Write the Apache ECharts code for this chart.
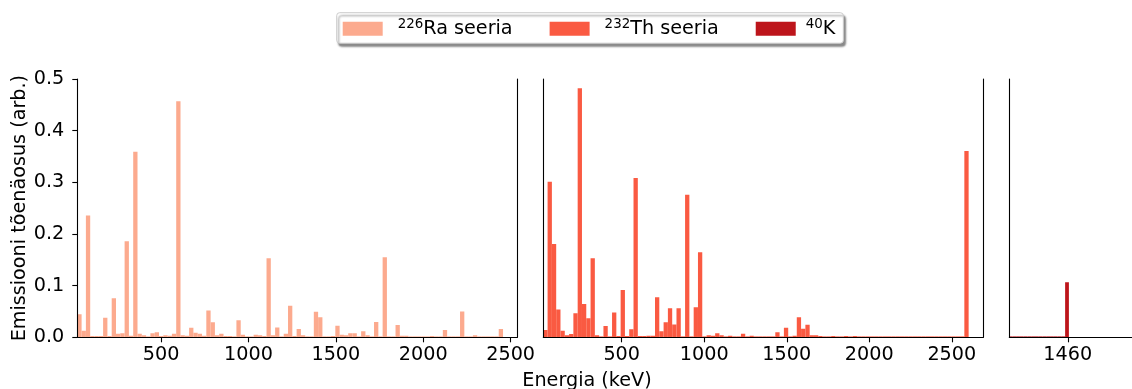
<!DOCTYPE html>
<html>
<head>
<meta charset="utf-8">
<script src="https://cdn.jsdelivr.net/npm/echarts@6/dist/echarts.min.js"></script>
<style>
  html, body { margin: 0; padding: 0; background: #fff; }
  #chart { width: 1132px; height: 389px; }
</style>
</head>
<body>
<div id="chart"></div>
<script>
// Emission probabilities per energy bin (keV histograms of the decay series)
const RA_BIN_START = 21;      // keV
const RA_BIN_WIDTH = 24.6;    // keV
const raValues = [
  0.0445, 0.0128, 0.236, 0.002, 0.002, 0.002, 0.038, 0.002, 0.0755, 0.007,
  0.008, 0.186, 0.003, 0.359, 0.007, 0.004, 0.001, 0.008, 0.010, 0.002,
  0.004, 0.003, 0.007, 0.457, 0.004, 0.003, 0.0186, 0.009, 0.007, 0.003,
  0.052, 0.029, 0.004, 0.007, 0.002, 0.002, 0.001, 0.033, 0.005, 0.001,
  0.001, 0.005, 0.004, 0.002, 0.153, 0.004, 0.019, 0.001, 0.007, 0.061,
  0.002, 0.016, 0.004, 0, 0, 0.0496, 0.0387, 0, 0.001, 0.002,
  0.0225, 0.005, 0.004, 0.008, 0.008, 0.001, 0.0116, 0.004, 0, 0.0296,
  0, 0.155, 0, 0, 0.024, 0.003, 0.003, 0.001, 0.001, 0.001,
  0.001, 0.001, 0.002, 0.001, 0.001, 0.014, 0.001, 0.001, 0.001, 0.050,
  0.001, 0.001, 0.004, 0.001, 0.001, 0.001, 0.001, 0.001, 0.016
];

const TH_BIN_START = 25;      // keV
const TH_BIN_WIDTH = 26.03;   // keV
const thValues = [
  0.0141, 0.301, 0.1806, 0.054, 0.0128, 0.004, 0.0065, 0.0464, 0.482, 0.0644,
  0.0368, 0.153, 0.004, 0.001, 0.0219, 0.001, 0.048, 0.002, 0.0916, 0.002,
  0.0155, 0.3083, 0.002, 0.002, 0.003, 0.003, 0.0774, 0.0116, 0.029, 0.056,
  0.025, 0.056, 0, 0.276, 0, 0.058, 0.1645, 0, 0.004, 0.003,
  0.008, 0.004, 0.001, 0.003, 0.001, 0.001, 0.007, 0.001, 0.003, 0.001,
  0.001, 0.001, 0.001, 0.001, 0.0097, 0, 0.0186, 0, 0.003, 0.0387,
  0.0167, 0.0244, 0.004, 0.004, 0.002, 0.001, 0.001, 0.002, 0.001, 0.001,
  0.002, 0.001, 0.002, 0.001, 0, 0, 0, 0, 0, 0,
  0, 0, 0, 0, 0, 0, 0, 0, 0, 0,
  0, 0, 0, 0, 0, 0, 0, 0, 0.3606
];

const K_BIN_START = 1392.5;   // keV
const K_BIN_WIDTH = 4.3;      // keV
const kValues = [
  0, 0, 0, 0, 0, 0, 0, 0, 0, 0, 0, 0, 0, 0, 0, 0.1066
];

const seriesNames = ['226Ra seeria', '232Th seeria', '40K'];
const raTicks = [500, 1000, 1500, 2000, 2500];
const thTicks = [500, 1000, 1500, 2000, 2500];
const kTicks = [1460];
const yTicks = [0, 0.1, 0.2, 0.3, 0.4, 0.5];

const COLORS = ['#fcaa8e', '#fa5a42', '#bd151b'];
const FONT = 'DejaVu Sans';
const FS = 19.2;

function toBins(start, width, values) {
  return values.map((v, i) => [start + i * width, start + (i + 1) * width, v]);
}

function barRenderer(color) {
  return function (params, api) {
    const top = api.coord([api.value(0), api.value(2)]);
    const base = api.coord([api.value(1), 0]);
    // empty bins still leave a faint hairline on the baseline
    const empty = base[1] - top[1] < 1;
    const h = Math.max(base[1] - top[1], 1.3);
    return {
      type: 'rect',
      shape: { x: top[0], y: base[1] - h, width: base[0] - top[0], height: h },
      style: { fill: color, opacity: empty ? 0.6 : 1 }
    };
  };
}

const GRID_TOP = 79;
const GRID_H = 258.3;
const grids = [
  { left: 77.3, top: GRID_TOP, width: 440, height: GRID_H },
  { left: 543.3, top: GRID_TOP, width: 440, height: GRID_H },
  { left: 1009.3, top: GRID_TOP, width: 140, height: GRID_H }
];

const lineStyle = { color: '#000', width: 1.1 };

function xAxisFor(gridIndex, min, max, ticks) {
  return {
    type: 'value', gridIndex, min, max, z: 10,
    axisLine: { show: true, onZero: false, lineStyle },
    axisTick: { show: true, length: 5, lineStyle, customValues: ticks },
    axisLabel: {
      show: true, customValues: ticks, fontFamily: FONT, fontSize: FS, color: '#000', margin: 8,
      formatter: v => String(v)
    },
    splitLine: { show: false }
  };
}

function spineY(gridIndex, position) {
  return {
    type: 'value', gridIndex, position, min: 0, max: 0.5, z: 10,
    axisLine: { show: true, onZero: false, lineStyle },
    axisTick: { show: false }, axisLabel: { show: false }, splitLine: { show: false }
  };
}

const chart = echarts.init(document.getElementById('chart'), null, { renderer: 'canvas' });

chart.setOption({
  animation: false,
  backgroundColor: '#fff',
  grid: grids,
  xAxis: [
    xAxisFor(0, 21, 2538, raTicks),
    xAxisFor(1, 25, 2690.8, thTicks),
    xAxisFor(2, 1393.3, 1533.3, kTicks)
  ],
  yAxis: [
    {
      type: 'value', gridIndex: 0, position: 'left', min: 0, max: 0.5, z: 10,
      axisLine: { show: true, onZero: false, lineStyle },
      axisTick: { show: true, length: 5, lineStyle, customValues: yTicks },
      axisLabel: {
        customValues: yTicks, fontFamily: FONT, fontSize: FS, color: '#000', margin: 13,
        formatter: v => v.toFixed(1)
      },
      splitLine: { show: false },
      name: 'Emissiooni tõenäosus (arb.)',
      nameLocation: 'middle', nameGap: 44,
      nameTextStyle: { fontFamily: FONT, fontSize: FS, color: '#000' }
    },
    spineY(0, 'right'),
    spineY(1, 'left'),
    spineY(1, 'right'),
    spineY(2, 'left')
  ],
  legend: {
    data: seriesNames,
    left: 336.7, top: 12.7,
    padding: [5, 8, 5, 6],
    itemWidth: 40, itemHeight: 14, itemGap: 37,
    icon: 'rect',
    backgroundColor: '#fff',
    borderColor: '#cccccc', borderWidth: 1, borderRadius: 3,
    shadowColor: 'rgba(0,0,0,0.45)', shadowBlur: 2, shadowOffsetX: 2, shadowOffsetY: 3,
    selectedMode: false,
    formatter: function (name) {
      if (name === seriesNames[0]) return '{supA|226}{main|Ra seeria}';
      if (name === seriesNames[1]) return '{supA|232}{main|Th seeria}';
      return '{supB|40}{main|K}';
    },
    textStyle: {
      fontFamily: FONT, fontSize: FS, color: '#000',
      rich: {
        supA: { fontFamily: FONT, fontSize: 13.4, lineHeight: 12, verticalAlign: 'top', padding: [0, 0, 0, 10] },
        supB: { fontFamily: FONT, fontSize: 13.4, lineHeight: 12, verticalAlign: 'top', padding: [0, 0, 0, 5] },
        main: { fontFamily: FONT, fontSize: FS, lineHeight: 22 }
      }
    }
  },
  graphic: [{
    type: 'text', x: 587, y: 381,
    style: {
      text: 'Energia (keV)', font: FS + 'px "DejaVu Sans"', fill: '#000',
      align: 'center', verticalAlign: 'middle'
    }
  }],
  series: [
    {
      name: seriesNames[0], type: 'custom', xAxisIndex: 0, yAxisIndex: 0, clip: true,
      itemStyle: { color: COLORS[0] },
      renderItem: barRenderer(COLORS[0]),
      encode: { x: [0, 1], y: 2 },
      data: toBins(RA_BIN_START, RA_BIN_WIDTH, raValues)
    },
    {
      name: seriesNames[1], type: 'custom', xAxisIndex: 1, yAxisIndex: 2, clip: true,
      itemStyle: { color: COLORS[1] },
      renderItem: barRenderer(COLORS[1]),
      encode: { x: [0, 1], y: 2 },
      data: toBins(TH_BIN_START, TH_BIN_WIDTH, thValues)
    },
    {
      name: seriesNames[2], type: 'custom', xAxisIndex: 2, yAxisIndex: 4, clip: true,
      itemStyle: { color: COLORS[2] },
      renderItem: barRenderer(COLORS[2]),
      encode: { x: [0, 1], y: 2 },
      data: toBins(K_BIN_START, K_BIN_WIDTH, kValues)
    }
  ]
});
</script>
</body>
</html>
